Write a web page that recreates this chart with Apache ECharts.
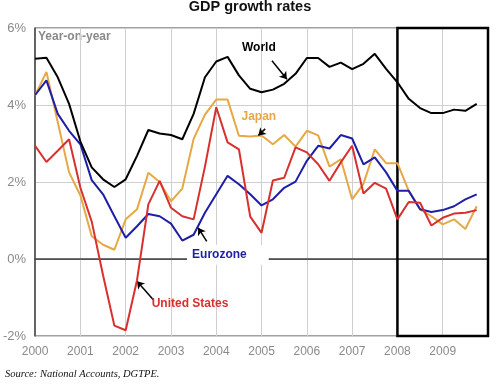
<!DOCTYPE html>
<html>
<head>
<meta charset="utf-8">
<script src="https://cdn.jsdelivr.net/npm/echarts@6/dist/echarts.min.js"></script>
<style>html,body{margin:0;padding:0;background:#fff}#c{width:500px;height:388px}</style>
</head>
<body>
<div id="c"></div>
<script>
var quarters = [2000,2000.25,2000.5,2000.75,2001,2001.25,2001.5,2001.75,2002,2002.25,2002.5,2002.75,
  2003,2003.25,2003.5,2003.75,2004,2004.25,2004.5,2004.75,2005,2005.25,2005.5,2005.75,
  2006,2006.25,2006.5,2006.75,2007,2007.25,2007.5,2007.75,2008,2008.25,2008.5,2008.75,
  2009,2009.25,2009.5,2009.75];
var world = [5.20,5.23,4.72,4.03,3.05,2.38,2.07,1.87,2.07,2.68,3.35,3.26,3.22,3.11,3.77,4.72,5.13,5.25,4.77,4.42,
  4.33,4.40,4.55,4.81,5.22,5.22,4.99,5.10,4.93,5.07,5.33,4.94,4.59,4.16,3.92,3.79,3.79,3.88,3.85,4.03];
var japan = [4.25,4.86,3.55,2.25,1.65,0.59,0.37,0.24,1.03,1.29,2.24,2.00,1.50,1.83,3.12,3.75,4.14,4.14,3.20,3.18,
  3.21,2.98,3.22,2.92,3.33,3.21,2.40,2.59,1.55,1.95,2.85,2.49,2.49,1.77,1.29,1.11,0.90,1.03,0.78,1.37];
var eurozone = [4.26,4.64,3.77,3.33,2.98,2.05,1.68,1.11,0.55,0.85,1.17,1.11,0.92,0.48,0.63,1.20,1.68,2.16,1.94,1.68,
  1.39,1.55,1.85,2.01,2.55,2.94,2.87,3.22,3.13,2.46,2.64,2.25,1.77,1.77,1.29,1.22,1.27,1.37,1.55,1.68];
var unitedStates = [2.94,2.52,2.81,3.11,1.85,0.97,-0.42,-1.73,-1.85,-0.55,1.42,2.03,1.33,1.11,1.03,2.40,3.94,3.03,2.85,1.10,
  0.68,2.04,2.11,2.90,2.77,2.46,2.03,2.51,2.94,1.70,1.98,1.83,1.03,1.48,1.46,0.87,1.07,1.18,1.20,1.27];
var yearTicks = [2000,2001,2002,2003,2004,2005,2006,2007,2008,2009];
var seriesNames = ['World','Japan','Eurozone','United States'];
var colors = ['#000000','#E6A845','#1E1EA6','#D8302E'];

function pairs(vals){ return quarters.map(function(q,i){ return [q, vals[i]]; }); }
function arrow(a,b){ return {data:[[{coord:a},{coord:b}]], symbol:['none','arrow'], symbolSize:7, silent:true,
  lineStyle:{color:'#000',width:1.5,type:'solid'}, label:{show:false}, animation:false}; }
function tag(text,coord,color,extra){
  var lab = {show:true, position:'inside', formatter:text, color:color, fontWeight:'bold', fontSize:12,
    fontFamily:'Liberation Sans, Arial, sans-serif'};
  if (extra) for (var k in extra) lab[k]=extra[k];
  return {symbolSize:0, silent:true, data:[{coord:coord, label:lab}], animation:false};
}

var chart = echarts.init(document.getElementById('c'), null, {renderer:'canvas'});
chart.setOption({
  animation:false,
  backgroundColor:'#fff',
  textStyle:{fontFamily:'Liberation Sans, Arial, sans-serif'},
  grid:{left:35, right:12, top:28, bottom:52, show:true, borderColor:'#444', borderWidth:1},
  graphic:[
    {type:'text', left:'center', top:-1, style:{text:'GDP growth rates', font:'bold 14.5px "Liberation Sans", Arial', fill:'#111'}},
    {type:'text', left:38, top:31, style:{text:'Year-on-year', font:'bold 12px "Liberation Sans", Arial', fill:'#8a8a8a'}},
    {type:'text', left:5, top:369, style:{text:'Source: National Accounts, DGTPE.', font:'italic 10.5px "Liberation Serif", "Times New Roman", serif', fill:'#111'}}
  ],
  xAxis:{type:'value', min:2000, max:2010, interval:1,
    axisLine:{show:true, lineStyle:{color:'#444', width:1.5}}, axisTick:{show:false},
    axisLabel:{color:'#8a8a8a', fontSize:12, margin:10,
      formatter:function(v){ return yearTicks.indexOf(v) >= 0 ? String(v) : ''; }},
    splitLine:{show:true, lineStyle:{color:'#cfcfcf', width:1}}},
  yAxis:{type:'value', min:-2, max:6, interval:2,
    axisLine:{show:true, lineStyle:{color:'#444', width:1.5}}, axisTick:{show:false},
    axisLabel:{color:'#8a8a8a', fontSize:13, margin:9, formatter:'{value}%'},
    splitLine:{show:true, lineStyle:{color:['#cfcfcf','#777','#cfcfcf','#cfcfcf','#cfcfcf'], width:1}}},
  series:[
    {name:'Japan', type:'line', data:pairs(japan), showSymbol:false, lineStyle:{color:colors[1], width:2}, itemStyle:{color:colors[1]}, z:3,
      markLine:arrow([2005.08,3.38],[2004.93,3.21]),
      markPoint:tag('Japan',[2004.94,3.69],colors[1])},
    {name:'Eurozone', type:'line', data:pairs(eurozone), showSymbol:false, lineStyle:{color:colors[2], width:2}, itemStyle:{color:colors[2]}, z:4,
      markLine:arrow([2003.79,0.46],[2003.60,0.81]),
      markPoint:tag('Eurozone',[2004.08,0.11],colors[2],{backgroundColor:'#fff', padding:[4,22,4,5], offset:[8,0]})},
    {name:'United States', type:'line', data:pairs(unitedStates), showSymbol:false, lineStyle:{color:colors[3], width:2}, itemStyle:{color:colors[3]}, z:5,
      markLine:arrow([2002.61,-1.06],[2002.25,-0.58]),
      markPoint:tag('United States',[2003.42,-1.17],colors[3])},
    {name:'World', type:'line', data:pairs(world), showSymbol:false, lineStyle:{color:colors[0], width:2}, itemStyle:{color:colors[0]}, z:6,
      markLine:arrow([2005.23,5.15],[2005.56,4.67]),
      markPoint:tag('World',[2004.94,5.49],colors[0]),
      markArea:{silent:true, itemStyle:{color:'rgba(0,0,0,0)', borderColor:'#000', borderWidth:2.5},
        data:[[{coord:[2008,-2]},{coord:[2010,6]}]]}}
  ]
});
</script>
</body>
</html>
